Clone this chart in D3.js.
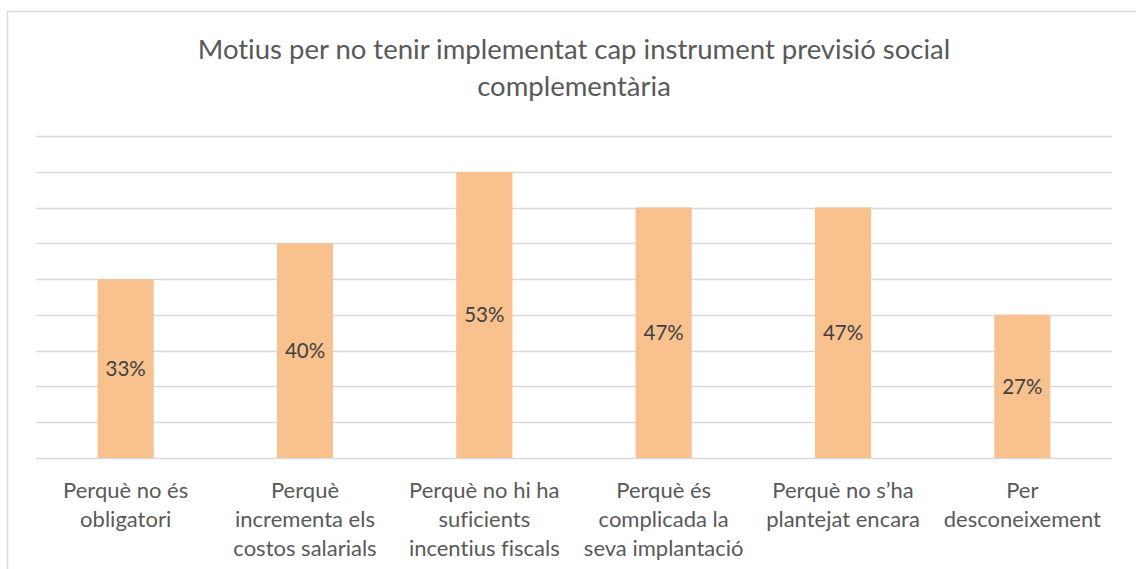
<!DOCTYPE html>
<html>
<head>
<meta charset="utf-8">
<script src="https://cdn.jsdelivr.net/npm/d3@7"></script>
<style>
  body { margin: 0; background: #fff; }
  svg text { font-family: Lato, "Open Sans", sans-serif; font-variant-ligatures: none; font-feature-settings: "liga" 0; }
</style>
</head>
<body>
<svg></svg>
<script>
// data
var titleLines = ["Motius per no tenir implementat cap instrument previsió social", "complementària"];
var categories = [
  ["Perquè no és", "obligatori"],
  ["Perquè", "incrementa els", "costos salarials"],
  ["Perquè no hi ha", "suficients", "incentius fiscals"],
  ["Perquè és", "complicada la", "seva implantació"],
  ["Perquè no s’ha", "plantejat encara"],
  ["Per", "desconeixement"]
];
var values = [33.3, 40, 53.3, 46.7, 46.7, 26.7];
var gridTicks = [0, 6.67, 13.33, 20, 26.67, 33.33, 40, 46.67, 53.33, 60];

var svgWidth = 1136, svgHeight = 569;
var svg = d3.select("svg")
    .attr("width", svgWidth)
    .attr("height", svgHeight);

// outer chart frame
svg.append("rect")
    .attr("x", 7.5).attr("y", 11.5)
    .attr("width", 1140).attr("height", 600)
    .attr("fill", "none")
    .attr("stroke", "#d9d9d9")
    .attr("stroke-width", 1.5);

var plotLeft = 36, plotRight = 1112, plotTop = 136, plotBottom = 458;

var x = d3.scaleBand()
    .domain(d3.range(categories.length))
    .range([plotLeft, plotRight])
    .paddingInner(0.687)
    .paddingOuter(0.3435);

var y = d3.scaleLinear()
    .domain([0, 60])
    .range([plotBottom, plotTop]);

// gridlines
svg.append("g").selectAll("line")
    .data(gridTicks)
    .enter()
    .append("line")
    .attr("x1", plotLeft).attr("x2", plotRight)
    .attr("y1", function(d) { return Math.round(y(d)) + 0.5; })
    .attr("y2", function(d) { return Math.round(y(d)) + 0.5; })
    .attr("stroke", "#d9d9d9")
    .attr("stroke-width", 1.5);

// bars
svg.append("g").selectAll("rect")
    .data(values)
    .enter()
    .append("rect")
    .attr("x", function(d, i) { return x(i); })
    .attr("y", function(d) { return y(d); })
    .attr("width", x.bandwidth())
    .attr("height", function(d) { return y(0) - y(d); })
    .attr("fill", "#f8c18e");

// value labels in the middle of each bar
svg.append("g").selectAll("text")
    .data(values)
    .enter()
    .append("text")
    .attr("x", function(d, i) { return x(i) + x.bandwidth() / 2; })
    .attr("y", function(d) { return (y(d) + y(0)) / 2 + 7.5; })
    .attr("text-anchor", "middle")
    .attr("font-size", 20.5)
    .attr("fill", "#404040")
    .text(function(d) { return Math.round(d) + "%"; });

// category labels
var cat = svg.append("g").selectAll("text")
    .data(categories)
    .enter()
    .append("text")
    .attr("text-anchor", "middle")
    .attr("font-size", 22)
    .attr("fill", "#595959");

cat.selectAll("tspan")
    .data(function(d, i) { return d.map(function(s) { return {s: s, i: i}; }); })
    .enter()
    .append("tspan")
    .attr("x", function(d) { return x(d.i) + x.bandwidth() / 2; })
    .attr("y", function(d, j) { return 498 + j * 29; })
    .text(function(d) { return d.s; });

// title
svg.append("g").selectAll("text")
    .data(titleLines)
    .enter()
    .append("text")
    .attr("x", 574)
    .attr("y", function(d, i) { return 59 + i * 37; })
    .attr("text-anchor", "middle")
    .attr("font-size", 27.5)
    .attr("fill", "#595959")
    .text(function(d) { return d; });
</script>
</body>
</html>
